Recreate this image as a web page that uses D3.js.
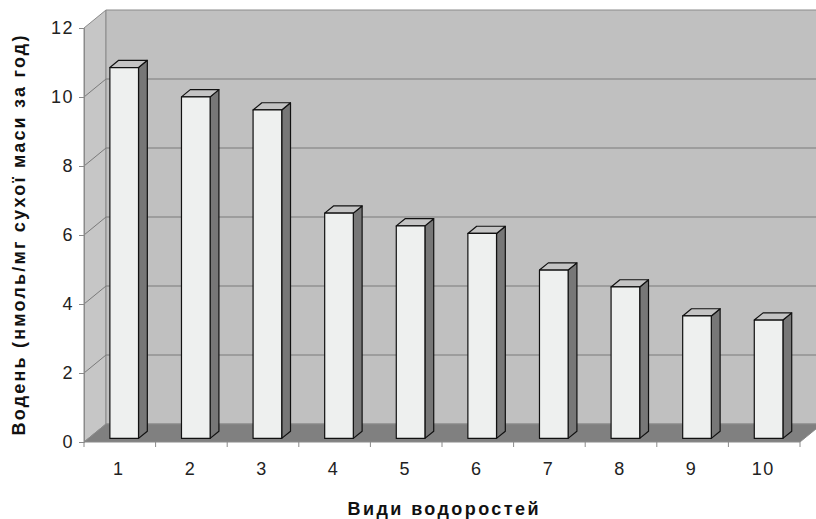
<!DOCTYPE html>
<html>
<head>
<meta charset="utf-8">
<script src="https://cdn.jsdelivr.net/npm/d3@7"></script>
<style>
  html, body { margin: 0; padding: 0; background: #fff; }
  svg { display: block; }
  text { font-family: "Liberation Sans", Arial, sans-serif; }
</style>
</head>
<body>
<svg id="chart" width="816" height="519"></svg>
<script>
// Hydrogen production by algae species
const categories = ["1", "2", "3", "4", "5", "6", "7", "8", "9", "10"];
const values = [10.75, 9.9, 9.52, 6.53, 6.16, 5.94, 4.88, 4.39, 3.55, 3.43];
const yTicks = [0, 2, 4, 6, 8, 10, 12];
const yTitle = "Водень (нмоль/мг сухої маси за год)";
const xTitle = "Види водоростей";

const svg = d3.select("#chart");

// Front plane of the 3D box
const plotLeft = 84, plotRight = 800, plotBottom = 442, plotTop = 28;
// Depth of the box (back wall offset)
const depthX = 22, depthY = -18;
// Bars sit between these fractions of the depth
const barD0 = 0.2, barD1 = 0.6;

const x = d3.scaleBand().domain(categories).range([plotLeft, plotRight])
  .paddingInner(0.6).paddingOuter(0.3);
const xStep = d3.scaleBand().domain(categories).range([plotLeft, plotRight]).padding(0);
const y = d3.scaleLinear().domain([0, 12]).range([plotBottom, plotTop]);

const pts = p => p.map(q => q.join(",")).join(" ");

// Left side wall
svg.append("polygon")
  .attr("points", pts([[plotLeft, plotBottom], [plotLeft, plotTop], [plotLeft + depthX, plotTop + depthY], [plotLeft + depthX, plotBottom + depthY]]))
  .attr("fill", "#c6c6c6").attr("stroke", "#8a8a8a").attr("stroke-width", 1);

// Back wall (runs off the right edge)
svg.append("polygon")
  .attr("points", pts([[plotLeft + depthX, plotBottom + depthY], [plotLeft + depthX, plotTop + depthY], [plotRight + depthX + 40, plotTop + depthY], [plotRight + depthX + 40, plotBottom + depthY]]))
  .attr("fill", "#c0c0c0").attr("stroke", "#8a8a8a").attr("stroke-width", 1);

// Gridlines on both walls
const grid = svg.append("g").attr("stroke", "#7a7a7a").attr("stroke-width", 1).attr("fill", "none");
yTicks.filter(t => t > 0 && t < 12).forEach(t => {
  grid.append("polyline")
    .attr("points", pts([[plotLeft, y(t)], [plotLeft + depthX, y(t) + depthY], [plotRight + depthX + 40, y(t) + depthY]]));
});

// Floor
svg.append("polygon")
  .attr("points", pts([[plotLeft, plotBottom], [plotRight, plotBottom], [plotRight + depthX, plotBottom + depthY], [plotLeft + depthX, plotBottom + depthY]]))
  .attr("fill", "#808080").attr("stroke", "#8a8a8a").attr("stroke-width", 1);

// Bars as 3D boxes
const bx0 = depthX * barD0, by0 = depthY * barD0;
const bdx = depthX * (barD1 - barD0), bdy = depthY * (barD1 - barD0);
const bars = svg.append("g").attr("stroke", "#111").attr("stroke-width", 1.2).attr("stroke-linejoin", "round");
categories.forEach((c, i) => {
  const x0 = x(c) + bx0, w = x.bandwidth();
  const yt = y(values[i]) + by0, yb = y(0) + by0;
  bars.append("polygon") // side face
    .attr("points", pts([[x0 + w, yt], [x0 + w + bdx, yt + bdy], [x0 + w + bdx, yb + bdy], [x0 + w, yb]]))
    .attr("fill", "#777777");
  bars.append("polygon") // top face
    .attr("points", pts([[x0, yt], [x0 + bdx, yt + bdy], [x0 + w + bdx, yt + bdy], [x0 + w, yt]]))
    .attr("fill", "#c4c4c4");
  bars.append("rect") // front face
    .attr("x", x0).attr("y", yt).attr("width", w).attr("height", yb - yt)
    .attr("fill", "#eef0ef");
});

// Y axis on the front-left edge
const yAxis = svg.append("g").attr("transform", `translate(${plotLeft},0)`)
  .call(d3.axisLeft(y).tickValues(yTicks).tickSize(5).tickPadding(5).tickFormat(d3.format("d")));
yAxis.select(".domain").attr("stroke", "#8a8a8a");
yAxis.selectAll(".tick line").attr("stroke", "#8a8a8a");
yAxis.selectAll("text").attr("font-size", 18).attr("fill", "#222")
  .attr("letter-spacing", 1.5)
  .attr("font-family", "'Liberation Sans', Arial, sans-serif");

// X axis along the front floor edge
const xAxisG = svg.append("g").attr("stroke", "#8a8a8a");
const bounds = categories.map(c => xStep(c)).concat([plotRight]);
xAxisG.selectAll("line").data(bounds).join("line")
  .attr("x1", d => d).attr("x2", d => d).attr("y1", plotBottom).attr("y2", plotBottom + 5);
svg.append("g").selectAll("text").data(categories).join("text")
  .attr("x", d => xStep(d) + xStep.bandwidth() / 2 - 1)
  .attr("y", plotBottom + 33)
  .attr("text-anchor", "middle").attr("font-size", 18).attr("fill", "#222")
  .attr("letter-spacing", 1.5)
  .text(d => d);

// Axis titles
svg.append("text")
  .attr("transform", `translate(25,${(35 + 436) / 2}) rotate(-90)`)
  .attr("text-anchor", "middle").attr("font-size", 18).attr("font-weight", "bold").attr("fill", "#111")
  .attr("textLength", 400).attr("lengthAdjust", "spacing")
  .text(yTitle);
svg.append("text")
  .attr("x", 443).attr("y", 515)
  .attr("text-anchor", "middle").attr("font-size", 18).attr("font-weight", "bold").attr("fill", "#111")
  .attr("textLength", 191).attr("lengthAdjust", "spacing")
  .text(xTitle);
</script>
</body>
</html>
